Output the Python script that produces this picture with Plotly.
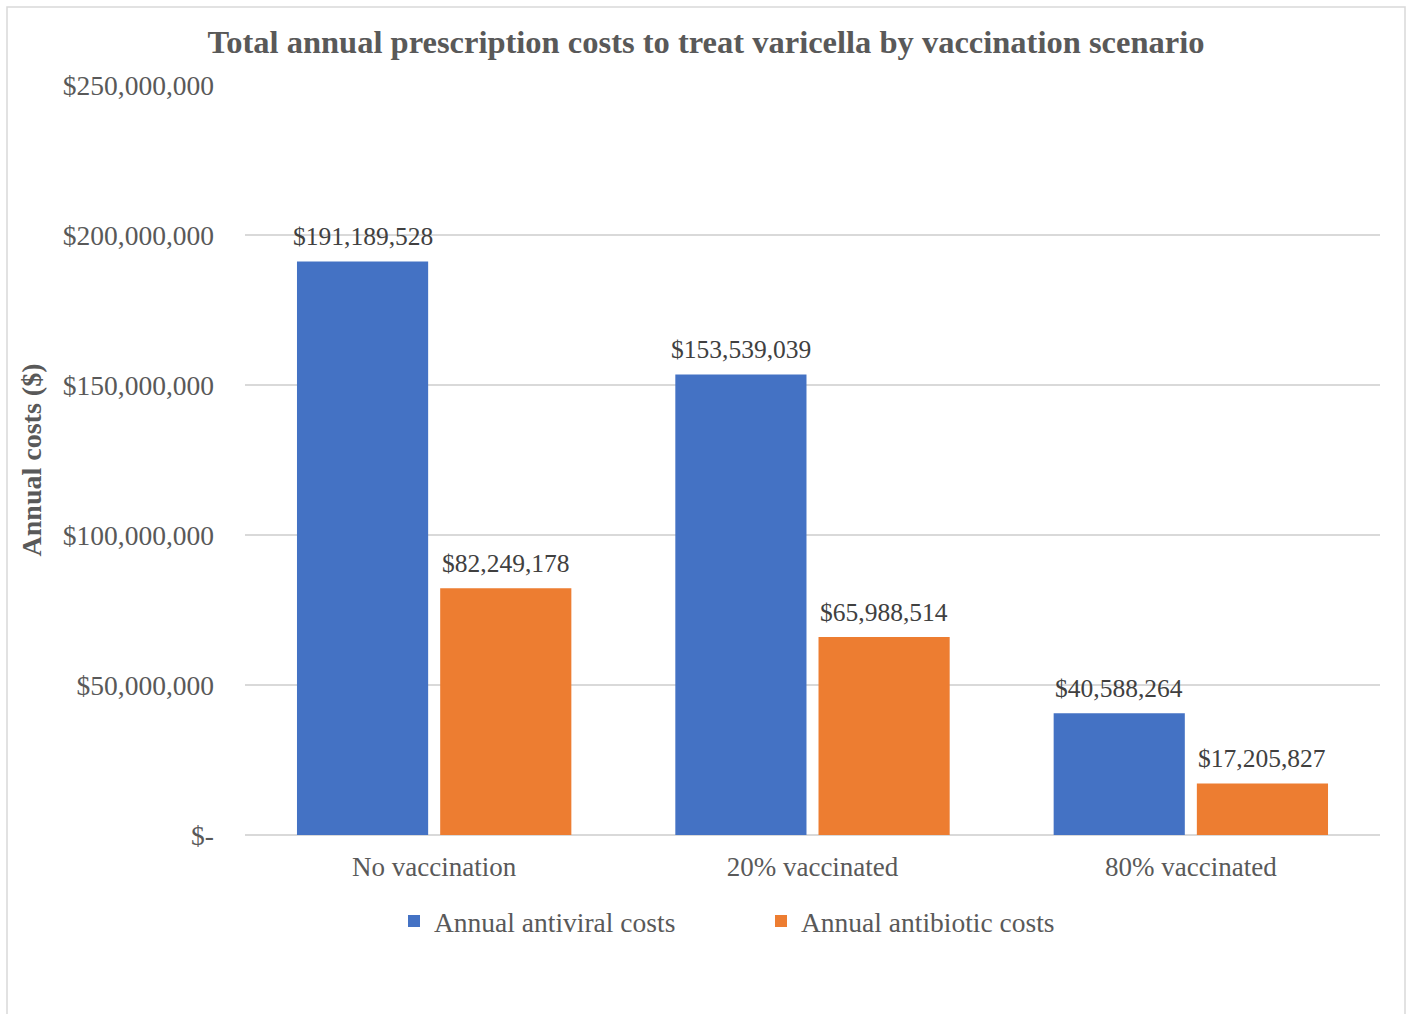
import plotly.graph_objects as go

categories = ["No vaccination", "20% vaccinated", "80% vaccinated"]
antiviral = [191189528, 153539039, 40588264]
antibiotic = [82249178, 65988514, 17205827]
series_names = ["Annual antiviral costs", "Annual antibiotic costs"]
tick_vals = [0, 50000000, 100000000, 150000000, 200000000, 250000000]
tick_text = ["$-", "$50,000,000", "$100,000,000", "$150,000,000", "$200,000,000", "$250,000,000"]

FONT = "Liberation Serif"
GREY = "#595959"

fig = go.Figure()
fig.add_trace(go.Bar(
    x=categories, y=antiviral, name=series_names[0],
    marker=dict(color="#4472C4", line=dict(width=0)),
))
fig.add_trace(go.Bar(
    x=categories, y=antibiotic, name=series_names[1],
    marker=dict(color="#ED7D31", line=dict(width=0)),
))

W, H = 1407, 1014
L, R, T, B = 245, 27, 85, 179
pw, ph = W - L - R, H - T - B

annotations = []
for vals, shift in ((antiviral, -71.5), (antibiotic, 71.5)):
    for c, v in zip(categories, vals):
        annotations.append(dict(
            x=c, y=v, xref="x", yref="y", text=f"${v:,}",
            showarrow=False, xshift=shift, yanchor="bottom", yshift=8,
            font=dict(family=FONT, size=25.5, color="#404040"),
        ))

fig.update_layout(
    width=W, height=H,
    margin=dict(l=L, r=R, t=T, b=B),
    paper_bgcolor="white", plot_bgcolor="white",
    barmode="group", bargap=0.243, bargroupgap=0.084,
    font=dict(family=FONT, color=GREY),
    title=dict(
        text="<b>Total annual prescription costs to treat varicella by vaccination scenario</b>",
        x=706 / W, xanchor="center", y=1 - 42 / H, yanchor="middle",
        font=dict(family=FONT, size=32.5, color=GREY),
    ),
    legend=dict(
        orientation="h", x=(394 - L) / pw, xanchor="left",
        y=(835 - 921) / ph, yanchor="middle",
        font=dict(family=FONT, size=27.5, color=GREY),
        entrywidth=322, entrywidthmode="pixels",
        itemwidth=30,
    ),
    showlegend=True,
    annotations=annotations,
    shapes=[dict(
        type="rect", xref="paper", yref="paper",
        x0=(7 - L) / pw, x1=(1405 - L) / pw,
        y0=(835 - 1030) / ph, y1=(835 - 7) / ph,
        line=dict(color="#d9d9d9", width=1.5), fillcolor="rgba(0,0,0,0)",
        layer="below",
    )],
)

fig.update_yaxes(
    range=[0, 250000000],
    tickvals=tick_vals, ticktext=tick_text,
    tickfont=dict(family=FONT, size=27.5, color=GREY),
    ticklabelstandoff=30,
    showgrid=True, gridcolor="#d9d9d9", gridwidth=1.5,
    zeroline=True, zerolinecolor="#d9d9d9", zerolinewidth=1.5,
    showline=False,
    title=dict(text="<b>Annual costs ($)</b>", font=dict(family=FONT, size=28, color=GREY), standoff=12),
)
fig.update_xaxes(
    tickfont=dict(family=FONT, size=27, color=GREY),
    ticklabelstandoff=13,
    showline=False, showgrid=False,
)

fig.write_html("out.html")
